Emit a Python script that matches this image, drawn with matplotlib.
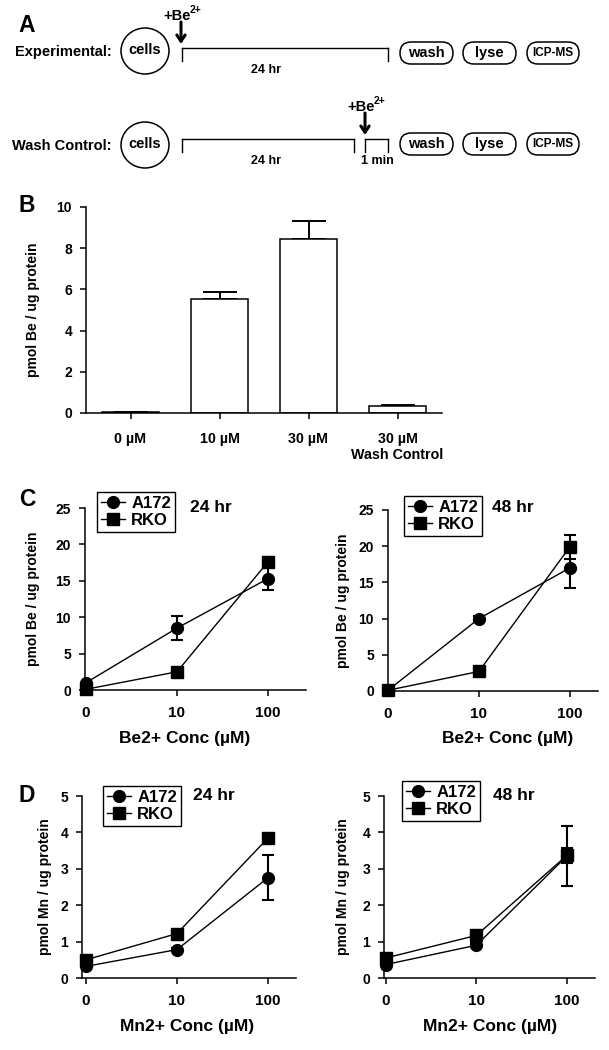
import matplotlib
matplotlib.use('Agg')
import matplotlib.pyplot as plt
from matplotlib.patches import Ellipse, FancyBboxPatch

plt.rcParams['font.family'] = ['Liberation Sans', 'DejaVu Sans']
plt.rcParams['font.weight'] = 'bold'
plt.rcParams['axes.labelweight'] = 'bold'
plt.rcParams['axes.linewidth'] = 1.1

# panel B: Be uptake after 24 hr
b_labels = ['0 µM', '10 µM', '30 µM', '30 µM\nWash Control']
b_mean = [0.03, 5.53, 8.47, 0.32]
b_err = [0.01, 0.33, 0.85, 0.06]

conc_ticks = ['0', '10', '100']

# panel C: Be uptake, A172 vs RKO
c24_a172 = [1.0, 8.5, 15.3]
c24_a172_err = [0.0, 1.6, 1.6]
c24_rko = [0.1, 2.5, 17.6]
c24_rko_err = [0.0, 0.2, 0.7]
c48_a172 = [0.1, 10.0, 17.0]
c48_a172_err = [0.0, 0.3, 2.8]
c48_rko = [0.1, 2.7, 19.9]
c48_rko_err = [0.0, 0.2, 1.6]

# panel D: Mn uptake, A172 vs RKO
d24_a172 = [0.32, 0.78, 2.75]
d24_a172_err = [0.03, 0.05, 0.62]
d24_rko = [0.5, 1.22, 3.84]
d24_rko_err = [0.03, 0.05, 0.05]
d48_a172 = [0.37, 0.9, 3.35]
d48_a172_err = [0.03, 0.05, 0.82]
d48_rko = [0.55, 1.17, 3.37]
d48_rko_err = [0.03, 0.05, 0.2]

W, H = 609, 1050
fig = plt.figure(figsize=(W / 100, H / 100), dpi=100)


def rect(x0, y0, x1, y1):
    return [x0 / W, 1 - y1 / H, (x1 - x0) / W, (y1 - y0) / H]


def ftext(x, y, s, **kw):
    # text placed in figure pixel coords (origin top-left)
    return fig.text(x / W, 1 - y / H, s, **kw)


# overlay in pixel coords for the scheme
ov = fig.add_axes([0, 0, 1, 1])
ov.set_xlim(0, W)
ov.set_ylim(H, 0)
ov.axis('off')

for lab, (x, y) in zip('ABCD', [(27, 25), (27, 205), (27, 500), (27, 795)]):
    ftext(x, y, lab, fontsize=16.5, ha='center', va='center')

# ---- panel A scheme ----
rows = [('Experimental:', 52, 48), ('Wash Control:', 146, 139)]
for name, ty, ly in rows:
    ov.text(112, ty, name, fontsize=10.5, ha='right', va='center')
    ov.add_patch(Ellipse((145, ty - 1), 48, 46, fill=False, lw=1.1, ec='k'))
    ov.text(145, ty - 2, 'cells', fontsize=10.5, ha='center', va='center')
    by = ly + 5
    for bx0, bx1, txt, fs in [(400, 453, 'wash', 10.5), (463, 516, 'lyse', 10.5),
                              (527, 579, 'ICP-MS', 8.5)]:
        ov.add_patch(FancyBboxPatch((bx0, by - 11), bx1 - bx0, 22,
                                    boxstyle='round,pad=0,rounding_size=11',
                                    fill=False, lw=1.1, ec='k'))
        ov.text((bx0 + bx1) / 2, by, txt, fontsize=fs, ha='center', va='center')
    ov.text(266, ly + 22, '24 hr', fontsize=9, ha='center', va='center')

# experimental timeline
ov.plot([182, 388], [48, 48], color='k', lw=1)
for x in [182, 388]:
    ov.plot([x, x], [48, 61], color='k', lw=1)
# wash control timeline
ov.plot([182, 354], [139, 139], color='k', lw=1)
ov.plot([365, 388], [139, 139], color='k', lw=1)
for x in [182, 354, 365, 388]:
    ov.plot([x, x], [139, 152], color='k', lw=1)
ov.text(377, 161, '1 min', fontsize=9, ha='center', va='center')

for ax_x, y0, y1 in [(181, 22, 44), (365, 113, 135)]:
    ov.annotate('', xy=(ax_x, y1), xytext=(ax_x, y0),
                arrowprops=dict(arrowstyle='->,head_length=0.45,head_width=0.3',
                                lw=2.2, color='k', shrinkA=0, shrinkB=0))
    ov.text(ax_x - 18, y0 - 6, '+Be', fontsize=10.5, ha='left', va='center')
    ov.text(ax_x + 9, y0 - 12, '2+', fontsize=7.5, ha='left', va='center')

# ---- panel B ----
axb = fig.add_axes(rect(86, 207, 442, 413))
xb = range(len(b_mean))
axb.bar(xb, b_mean, width=0.65, color='white', edgecolor='k', lw=1.1, zorder=2)
axb.errorbar(xb, b_mean, yerr=[[0] * len(b_err), b_err], fmt='none', ecolor='k',
             elinewidth=1.4, capsize=12.5, capthick=1.4, zorder=1)
axb.set_xlim(-0.5, 3.5)
axb.set_ylim(0, 10)
axb.set_yticks([0, 2, 4, 6, 8, 10])
axb.set_xticks(list(xb))
axb.set_xticklabels(b_labels, fontsize=10.3, linespacing=1.2)
axb.tick_params(axis='x', length=4, width=1.1, pad=9.5)
axb.tick_params(axis='y', length=4.5, width=1.1, pad=5.5, labelsize=10)
axb.set_ylabel('pmol Be / ug protein', fontsize=10)
axb.yaxis.label.set_verticalalignment('center')
axb.yaxis.set_label_coords(-0.149, 0.5)
for s in ['top', 'right']:
    axb.spines[s].set_visible(False)


def line_panel(box, xlim, a172, a172_err, rko, rko_err, ymax, ystep, ylab, xlab,
               ylab_x, xlab_xy, leg_xy, hr_text, hr_xy):
    ax = fig.add_axes(rect(*box))
    ax.patch.set_alpha(0)
    x = [0, 1, 2]
    ax.errorbar(x, a172, yerr=a172_err, fmt='none', ecolor='k', elinewidth=1.5,
                capsize=4.5, capthick=1.5, zorder=2, clip_on=False)
    ax.errorbar(x, rko, yerr=rko_err, fmt='none', ecolor='k', elinewidth=1.5,
                capsize=4.5, capthick=1.5, zorder=2, clip_on=False)
    ax.plot(x, a172, 'o-', color='k', lw=1.0, ms=8.5, label='A172', zorder=3, clip_on=False)
    ax.plot(x, rko, 's-', color='k', lw=1.0, ms=8.5, label='RKO', zorder=3, clip_on=False)
    ax.set_xlim(*xlim)
    ax.set_ylim(0, ymax)
    ax.set_xticks(x)
    ax.set_xticklabels(conc_ticks, fontsize=11)
    ax.set_yticks([ystep * i for i in range(6)])
    ax.tick_params(axis='x', length=4.5, width=1.1, pad=7)
    ax.tick_params(axis='y', length=4.5, width=1.1, pad=5.5, labelsize=10)
    for s in ['top', 'right']:
        ax.spines[s].set_visible(False)
    ax.set_ylabel(ylab, fontsize=10)
    ax.yaxis.label.set_verticalalignment('center')
    ax.yaxis.set_label_coords(ylab_x, 0.5)
    ax.set_xlabel(xlab, fontsize=12.5)
    ax.xaxis.set_label_coords(*xlab_xy)
    ax.xaxis.label.set_verticalalignment('center')
    leg = ax.legend(loc='upper left', bbox_to_anchor=(leg_xy[0] / W, 1 - leg_xy[1] / H),
                    bbox_transform=fig.transFigure, borderaxespad=0, fontsize=12,
                    frameon=True, fancybox=False, edgecolor='k', framealpha=1,
                    handlelength=1.45, handletextpad=0.35, labelspacing=0.1,
                    borderpad=0.25)
    leg.get_frame().set_linewidth(1.0)
    ftext(hr_xy[0], hr_xy[1], hr_text, fontsize=12.5, ha='left', va='center')
    return ax


line_panel((85, 508, 306, 690), (-0.011, 2.418), c24_a172, c24_a172_err, c24_rko,
           c24_rko_err, 25, 5, 'pmol Be / ug protein', 'Be2+ Conc (µM)',
           -0.235, (0.452, -0.264), (97, 492), '24 hr', (190, 507))
line_panel((388, 510, 598, 691), (0, 2.31), c48_a172, c48_a172_err, c48_rko,
           c48_rko_err, 25, 5, 'pmol Be / ug protein', 'Be2+ Conc (µM)',
           -0.214, (0.571, -0.26), (404, 496), '48 hr', (492, 508))
line_panel((82, 796, 296, 978), (-0.044, 2.31), d24_a172, d24_a172_err, d24_rko,
           d24_rko_err, 5, 1, 'pmol Mn / ug protein', 'Mn2+ Conc (µM)',
           -0.173, (0.49, -0.269), (103, 786), '24 hr', (193, 795))
line_panel((384, 796, 595, 978), (-0.02, 2.31), d48_a172, d48_a172_err, d48_rko,
           d48_rko_err, 5, 1, 'pmol Mn / ug protein', 'Mn2+ Conc (µM)',
           -0.194, (0.502, -0.269), (402, 781), '48 hr', (493, 795))

fig.savefig('out.png', dpi=100)
